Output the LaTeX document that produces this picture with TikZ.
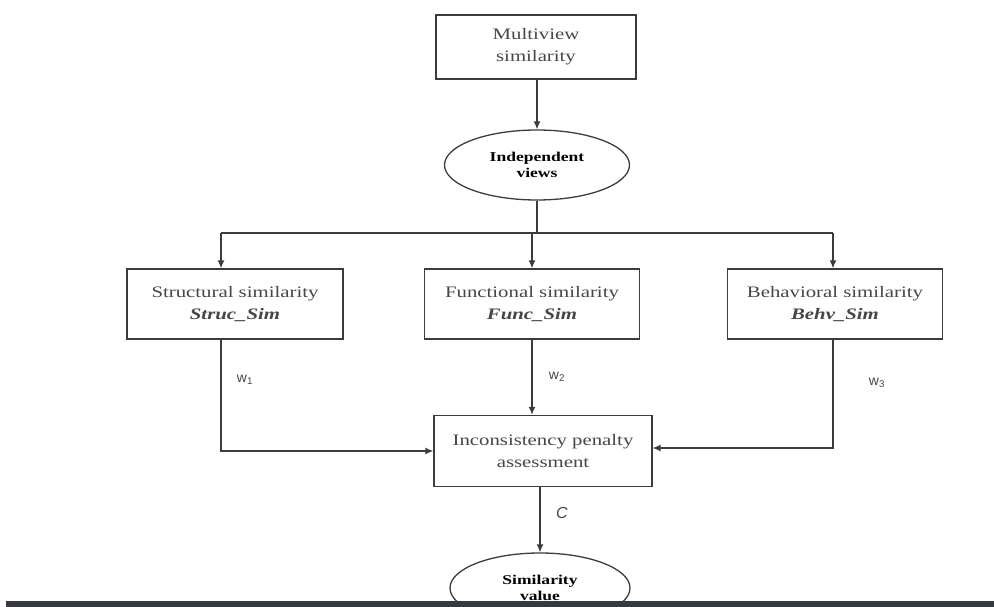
\documentclass[tikz,border=0pt]{standalone}
\usepackage{fontspec}
\setmainfont{Liberation Serif}[FakeStretch=1.3]
\setsansfont{Liberation Sans}
\usepackage{xcolor}
\usepackage{tikz}
\usetikzlibrary{shapes.geometric, arrows.meta, positioning, calc}
\definecolor{edge}{RGB}{60, 60, 60}
\definecolor{inktext}{RGB}{70, 70, 70}
\definecolor{barcol}{RGB}{52, 58, 64}

\begin{document}
\begin{tikzpicture}[
    x=1pt, y=-1pt,
    box/.style={rectangle, draw=edge, fill=white, line width=1.3pt, align=center, text=inktext, inner sep=0pt, font=\fontsize{16}{22}\selectfont},
    oval/.style={ellipse, draw=edge, fill=white, line width=1.3pt, align=center, inner sep=0pt, minimum width=185pt, minimum height=70pt, font=\fontsize{13.5}{15.5}\selectfont\bfseries},
    arrow/.style={-{Latex[length=8pt,width=7pt]}, line width=1.3pt, draw=edge},
    link/.style={line width=1.1pt, draw=edge},
    weight/.style={font=\sffamily\fontsize{14}{16}\selectfont, text=inktext}
]
    \useasboundingbox (0,0) rectangle (994,607);

    % Nodes
    \node[box, minimum width=200pt, minimum height=64pt] (multi) at (536,47) {Multiview\\similarity};
    \node[oval] (indep) at (537,165) {Independent\\views};

    \node[box, minimum width=216pt, minimum height=70pt] (struc) at (235,304) {Structural similarity\\\textbf{\textit{Struc\_Sim}}};
    \node[box, minimum width=215pt, minimum height=70pt] (func) at (532,304) {Functional similarity\\\textbf{\textit{Func\_Sim}}};
    \node[box, minimum width=215pt, minimum height=70pt] (behv) at (835,304) {Behavioral similarity\\\textbf{\textit{Behv\_Sim}}};

    \node[box, minimum width=218pt, minimum height=71pt] (incons) at (543,451) {Inconsistency penalty\\assessment};
    \node[oval, minimum width=180pt] (simval) at (540,588) {Similarity\\value};

    \coordinate (splitL) at (221,233);
    \coordinate (splitR) at (833,233);

    % Connections
    \draw[arrow] (multi.south -| indep.north) -- (indep.north);
    \draw[link] (indep.south) -- (indep.south |- splitL);
    \draw[link] (splitL) -- (splitR);
    \draw[arrow] (splitL) -- (splitL |- struc.north);
    \draw[arrow] (func.north |- splitL) -- (func.north);
    \draw[arrow] (splitR) -- (splitR |- behv.north);

    \draw[arrow] (splitL |- struc.south) |- (incons.west);
    \draw[arrow] (func.south) -- (func.south |- incons.north);
    \draw[arrow] (splitR |- behv.south) |- ([yshift=3pt]incons.east);
    \draw[arrow] (simval.north |- incons.south) -- (simval.north);

    % Weights
    \node[weight] (w1) at (245,380) {w\textsubscript{1}};
    \node[weight] (w2) at (557,377) {w\textsubscript{2}};
    \node[weight] (w3) at (877,383) {w\textsubscript{3}};
    \node[font=\sffamily\itshape\fontsize{16}{17}\selectfont, text=inktext] (cval) at (562,513) {C};

    % bottom bar
    \fill[barcol] (6,601) rectangle (994,607);
\end{tikzpicture}
\end{document}
